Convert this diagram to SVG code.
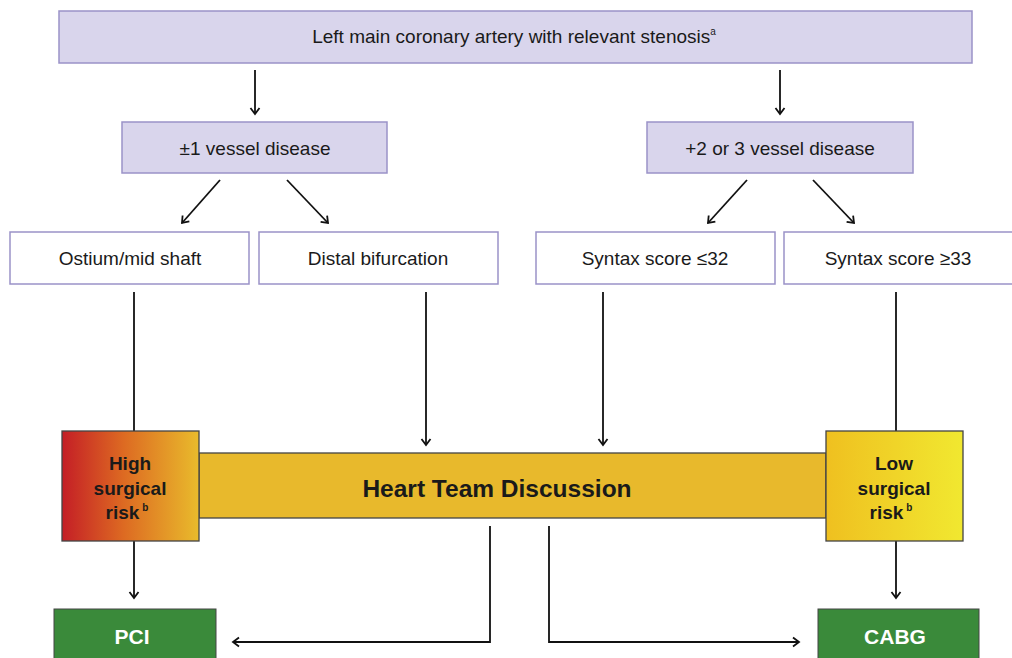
<svg xmlns="http://www.w3.org/2000/svg" width="1012" height="658" viewBox="0 0 1012 658">
<style>
.lav{fill:#d9d5ec;stroke:#9a92c8;stroke-width:1.5}
.wht{fill:#ffffff;stroke:#9a92c8;stroke-width:1.5}
.t{font-family:"Liberation Sans",Arial,sans-serif;font-size:19px;fill:#1a1a1a;text-anchor:middle}
.b{font-family:"Liberation Sans",Arial,sans-serif;font-weight:bold;fill:#1a1a1a;text-anchor:middle}
.w{font-family:"Liberation Sans",Arial,sans-serif;font-weight:bold;font-size:21px;fill:#ffffff;text-anchor:middle}
.c{fill:none;stroke:#111;stroke-width:1.8;marker-end:url(#ah)}
.n{fill:none;stroke:#111;stroke-width:1.8}
.dk{stroke:#444;stroke-width:1.3}
.grn{fill:#3a8a3a;stroke:#444;stroke-width:1}
</style>
<defs>
<marker id="ah" markerWidth="12" markerHeight="12" refX="9" refY="6" orient="auto" markerUnits="userSpaceOnUse">
<path d="M3,1.5 L9,6 L3,10.5" fill="none" stroke="#111" stroke-width="1.8"/>
</marker>
<linearGradient id="gHigh" x1="0" y1="0" x2="1" y2="0">
<stop offset="0" stop-color="#c41e26"/>
<stop offset="0.45" stop-color="#dd6a22"/>
<stop offset="1" stop-color="#e9bb2c"/>
</linearGradient>
<linearGradient id="gLow" x1="0" y1="0" x2="1" y2="0">
<stop offset="0" stop-color="#efc020"/>
<stop offset="1" stop-color="#f1e830"/>
</linearGradient>
</defs>
<rect width="1012" height="658" fill="#ffffff"/>

<g id="connectors">
<line class="c" x1="255" y1="70" x2="255" y2="114"/>
<line class="c" x1="780" y1="70" x2="780" y2="114"/>
<line class="c" x1="220" y1="180" x2="182" y2="223"/>
<line class="c" x1="287" y1="180" x2="328" y2="223"/>
<line class="c" x1="747" y1="180" x2="708" y2="223"/>
<line class="c" x1="813" y1="180" x2="854" y2="223"/>
<line class="n" x1="134" y1="292" x2="134" y2="431"/>
<line class="c" x1="426" y1="292" x2="426" y2="445"/>
<line class="c" x1="603" y1="292" x2="603" y2="445"/>
<line class="n" x1="896" y1="292" x2="896" y2="431"/>
<line class="c" x1="134" y1="541" x2="134" y2="598"/>
<line class="c" x1="896" y1="541" x2="896" y2="598"/>
<polyline class="c" points="490,526 490,642 233,642"/>
<polyline class="c" points="549,526 549,642 799,642"/>
</g>

<g id="top">
<rect class="lav" x="59" y="11" width="913" height="52"/>
<text class="t" x="514" y="43">Left main coronary artery with relevant stenosis<tspan font-size="10" dy="-8">a</tspan></text>
</g>
<g id="one-vessel">
<rect class="lav" x="122" y="122" width="265" height="51"/>
<text class="t" x="255" y="155">±1 vessel disease</text>
</g>
<g id="multi-vessel">
<rect class="lav" x="647" y="122" width="266" height="51"/>
<text class="t" x="780" y="155">+2 or 3 vessel disease</text>
</g>
<g id="ostium">
<rect class="wht" x="10" y="232" width="239" height="52"/>
<text class="t" x="130" y="265">Ostium/mid shaft</text>
</g>
<g id="distal">
<rect class="wht" x="259" y="232" width="239" height="52"/>
<text class="t" x="378" y="265">Distal bifurcation</text>
</g>
<g id="syntax-low">
<rect class="wht" x="536" y="232" width="239" height="52"/>
<text class="t" x="655" y="265">Syntax score ≤32</text>
</g>
<g id="syntax-high">
<rect class="wht" x="784" y="232" width="240" height="52"/>
<text class="t" x="898" y="265">Syntax score ≥33</text>
</g>
<g id="heart-team">
<rect x="199" y="453" width="627" height="65" fill="#e8b92c" class="dk"/>
<text class="b" x="497" y="497" font-size="24.5">Heart Team Discussion</text>
</g>
<g id="high-risk">
<rect x="62" y="431" width="137" height="110" fill="url(#gHigh)" class="dk"/>
<text class="b" font-size="19"><tspan x="130" y="470">High</tspan><tspan x="130" y="495">surgical</tspan><tspan x="127" y="519">risk</tspan><tspan font-size="10" dx="3" dy="-8">b</tspan></text>
</g>
<g id="low-risk">
<rect x="826" y="431" width="137" height="110" fill="url(#gLow)" class="dk"/>
<text class="b" font-size="19"><tspan x="894" y="470">Low</tspan><tspan x="894" y="495">surgical</tspan><tspan x="891" y="519">risk</tspan><tspan font-size="10" dx="3" dy="-8">b</tspan></text>
</g>
<g id="pci">
<rect class="grn" x="54" y="609" width="162" height="60"/>
<text class="w" x="132" y="644">PCI</text>
</g>
<g id="cabg">
<rect class="grn" x="818" y="609" width="161" height="60"/>
<text class="w" x="895" y="644">CABG</text>
</g>
</svg>
